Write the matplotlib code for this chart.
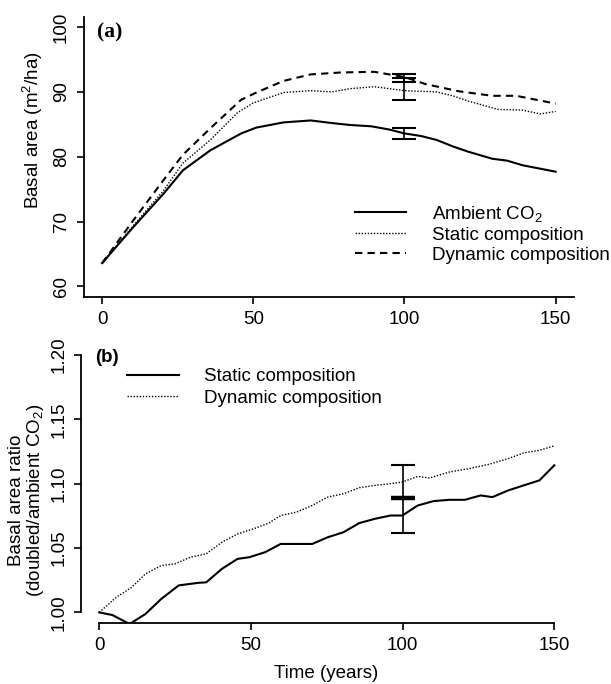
import matplotlib
matplotlib.use('Agg')
import matplotlib.pyplot as plt

plt.rcParams['font.family'] = ['Liberation Sans', 'DejaVu Sans']
plt.rcParams['mathtext.fontset'] = 'custom'
plt.rcParams['mathtext.rm'] = 'Liberation Sans'
plt.rcParams['mathtext.it'] = 'Liberation Sans:italic'
plt.rcParams['mathtext.bf'] = 'Liberation Sans:bold'

# (a) basal area over time
amb_x = [0, 10, 20.3, 26.7, 35.8, 46, 51, 60, 69, 76, 82, 89, 95, 100, 105.5, 110.6, 116, 121, 129, 134, 139, 150]
amb_y = [63.6, 69.0, 74.3, 77.9, 81.0, 83.6, 84.5, 85.3, 85.6, 85.2, 84.9, 84.7, 84.2, 83.6, 83.2, 82.6, 81.6, 80.8, 79.7, 79.4, 78.7, 77.7]

sta_x = [0, 10, 20.3, 26.7, 35.8, 44.8, 50, 60, 69, 76, 82, 90, 100, 110.6, 116, 121, 131, 139, 145, 150]
sta_y = [63.6, 69.2, 74.8, 79.0, 82.6, 86.8, 88.3, 89.9, 90.2, 90.0, 90.5, 90.8, 90.2, 90.0, 89.4, 88.6, 87.3, 87.2, 86.6, 87.0]

dyn_x = [0, 10, 20.3, 26.7, 35.8, 46, 51, 60, 69, 79, 90, 100, 107, 118, 129, 137, 150]
dyn_y = [63.6, 70.0, 76.4, 80.3, 84.4, 88.8, 89.9, 91.7, 92.7, 93.0, 93.1, 92.3, 91.2, 90.1, 89.4, 89.4, 88.2]

# error bars at year 100: (low, high)
err_x = 100
amb_err = (82.8, 84.45)
sta_err = (88.7, 92.1)
dyn_err = (91.6, 92.8)

# (b) ratio doubled / ambient
rs_x = [0, 4.3, 10, 15.2, 20.4, 26.2, 32.7, 35.3, 40.4, 45.6, 49.5, 54.7, 59.8, 65, 70.2, 75.3, 80.5, 85.7, 90.8, 96, 99.9,
        105, 110.2, 115.4, 120.5, 125.7, 129.6, 134.8, 139.9, 145.1, 150]
rs_y = [1.000, 0.998, 0.991, 0.9987, 1.0104, 1.021, 1.023, 1.0234, 1.0338, 1.0416, 1.0429, 1.0468, 1.0532, 1.0532, 1.0532,
        1.0584, 1.0623, 1.0694, 1.0727, 1.0753, 1.0753, 1.0831, 1.0865, 1.0875, 1.0875, 1.0909, 1.0896, 1.0948, 1.0987,
        1.1026, 1.1143]

rd_x = [0, 5.6, 10.7, 15.2, 20.4, 24.9, 30.1, 35.3, 40.4, 45.6, 50.8, 55.9, 59.8, 65, 70.2, 75.3, 80.5, 85.7, 90.8, 96,
        99.9, 105, 108.9, 115.4, 121.8, 128.3, 134.8, 139.9, 145.1, 150]
rd_y = [1.000, 1.0117, 1.0195, 1.0299, 1.0364, 1.0377, 1.0429, 1.0455, 1.0545, 1.061, 1.0649, 1.0694, 1.0753, 1.0779,
        1.0831, 1.0896, 1.0922, 1.0969, 1.0987, 1.1, 1.1013, 1.1057, 1.1044, 1.1091, 1.1117, 1.115, 1.1195, 1.1239,
        1.126, 1.1294]

ratio_err = (1.0618, 1.1143)
ratio_mid = 1.0888

x_ticks = [0, 50, 100, 150]
ya_ticks = [60, 70, 80, 90, 100]
yb_ticks = [1.00, 1.05, 1.10, 1.15, 1.20]

FS = 13.5
dotted = (0, (1, 1.2))
dashed = (0, (3.5, 2.5))

fig = plt.figure(figsize=(6.11, 6.84), dpi=100)
ax1 = fig.add_axes([0.1375, 0.566, 0.8015, 0.4096])
ax2 = fig.add_axes([0.1326, 0.0896, 0.8044, 0.4064])

# ---- panel (a)
ax1.plot(amb_x, amb_y, color='black', lw=1.5, ls='-', label='Ambient CO$_2$')
ax1.plot(sta_x, sta_y, color='black', lw=1.0, ls=dotted, label='Static composition')
ax1.plot(dyn_x, dyn_y, color='black', lw=1.5, ls=dashed, label='Dynamic composition')

for lo, hi in [amb_err, sta_err, dyn_err]:
    mid = (lo + hi) / 2
    ax1.errorbar([err_x], [mid], yerr=[[mid - lo], [hi - mid]], fmt='none', ecolor='black',
                 elinewidth=1.2, capsize=8.4, capthick=1.5)

ax1.set_xlim(-6, 156)
ax1.set_ylim(58.4, 101.6)
ax1.set_xticks(x_ticks)
ax1.set_yticks(ya_ticks)
ax1.spines[['top', 'right']].set_visible(False)
ax1.spines[['left', 'bottom']].set_linewidth(1.3)

leg1 = ax1.legend(loc='upper left', bbox_to_anchor=(355 / 611, 1 - 204 / 684), bbox_transform=fig.transFigure,
                  frameon=False, fontsize=FS, handlelength=2.7, handletextpad=1.4, labelspacing=0.15,
                  borderpad=0, borderaxespad=0)

# ---- panel (b)
ax2.plot(rs_x, rs_y, color='black', lw=1.5, ls='-', label='Static composition')
ax2.plot(rd_x, rd_y, color='black', lw=1.0, ls=dotted, label='Dynamic composition')
mid_b = (ratio_err[0] + ratio_err[1]) / 2
ax2.errorbar([err_x], [mid_b], yerr=[[mid_b - ratio_err[0]], [ratio_err[1] - mid_b]], fmt='none',
             ecolor='black', elinewidth=1.2, capsize=8.4, capthick=1.5)
ax2.plot([err_x], [ratio_mid], marker='_', ms=16.8, mew=3.2, color='black', ls='none')

ax2.set_xlim(-6, 156)
ax2.set_ylim(0.992, 1.208)
ax2.set_xticks(x_ticks)
ax2.set_yticks(yb_ticks)
ax2.set_yticklabels([f'{v:.2f}' for v in yb_ticks])
ax2.spines[['top', 'right']].set_visible(False)
ax2.spines[['left', 'bottom']].set_linewidth(1.3)
ax2.spines['left'].set_bounds(1.0, 1.2)
ax2.spines['bottom'].set_bounds(0, 150)

leg2 = ax2.legend(loc='upper left', bbox_to_anchor=(127 / 611, 1 - 368 / 684), bbox_transform=fig.transFigure,
                  frameon=False, fontsize=FS, handlelength=2.8, handletextpad=1.3, labelspacing=0.25,
                  borderpad=0, borderaxespad=0)

for ax in (ax1, ax2):
    ax.tick_params(direction='out', length=5, width=1.2, labelsize=FS, pad=5)
    ax.tick_params(axis='y', labelrotation=90)
    for lab in ax.get_yticklabels():
        lab.set_va('center')

# labels
fig.text(110 / 611, 1 - 32 / 684, '(a)', family='Liberation Serif', weight='bold', fontsize=15.5,
         ha='center', va='center')
fig.text(107 / 611, 1 - 358 / 684, '(b)', weight='bold', fontsize=FS, ha='center', va='center')
fig.text(33 / 611, 1 - 130 / 684, 'Basal area (m$^2$/ha)', rotation=90, fontsize=FS, ha='center', va='center')
fig.text(27 / 611, 1 - 500 / 684, 'Basal area ratio\n(doubled/ambient CO$_2$)', rotation=90, fontsize=FS,
         ha='center', va='center', multialignment='center', linespacing=1.0)
fig.text(326 / 611, 1 - 673 / 684, 'Time (years)', fontsize=FS, ha='center', va='center')

fig.savefig('out.png', dpi=100)
